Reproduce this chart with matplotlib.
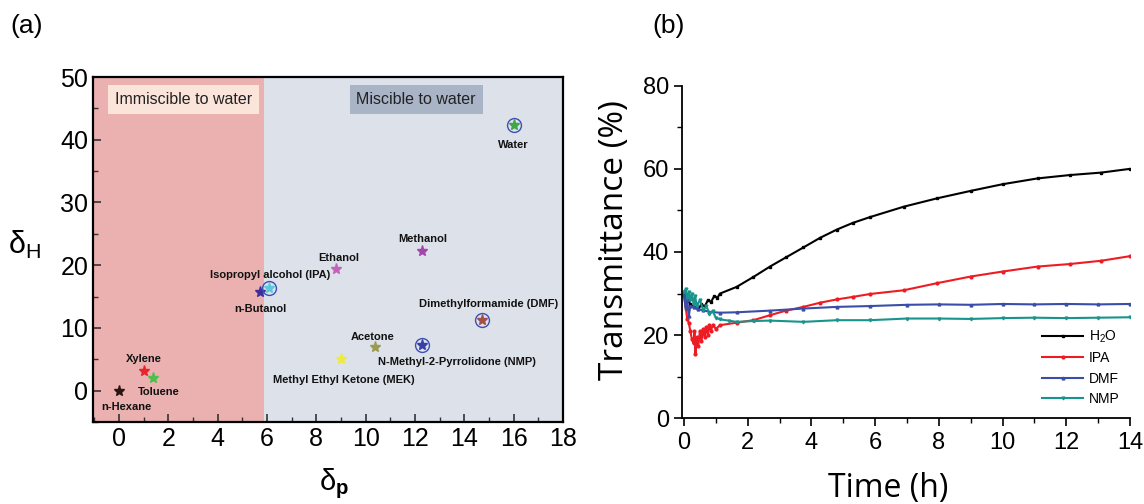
import matplotlib
matplotlib.use('Agg')
import matplotlib.pyplot as plt
from matplotlib.ticker import MultipleLocator

plt.rcParams['font.family'] = ['Liberation Sans', 'DejaVu Sans']
plt.rcParams['mathtext.fontset'] = 'custom'
plt.rcParams['mathtext.rm'] = 'Liberation Sans'
plt.rcParams['mathtext.it'] = 'Liberation Sans:italic'
plt.rcParams['mathtext.bf'] = 'Liberation Sans:bold'

# Hansen parameters of the solvents: polar (δp) and hydrogen bonding (δH)
solvents = ['n-Hexane', 'Xylene', 'Toluene', 'n-Butanol', 'Isopropyl alcohol (IPA)',
            'Ethanol', 'Methanol', 'Water', 'Dimethylformamide (DMF)', 'Acetone',
            'Methyl Ethyl Ketone (MEK)', 'N-Methyl-2-Pyrrolidone (NMP)']
delta_p = [0.0, 1.0, 1.4, 5.7, 6.1, 8.8, 12.3, 16.0, 14.7, 10.4, 9.0, 12.3]
delta_h = [0.0, 3.1, 2.0, 15.8, 16.4, 19.4, 22.3, 42.3, 11.3, 7.0, 5.1, 7.2]
star_colors = ['#2a1414', '#e8232a', '#4cbf4c', '#3f2e9a', '#5cc9da', '#c462bc',
               '#a545ac', '#3da845', '#a4504a', '#9c9a52', '#ecec3c', '#3a3fa8']
circled = ['Isopropyl alcohol (IPA)', 'Water', 'Dimethylformamide (DMF)',
           'N-Methyl-2-Pyrrolidone (NMP)']
# label centre offsets from the marker (δp, δH)
label_offsets = {
    'n-Hexane': (0.3, -2.65), 'Xylene': (0.0, 2.0), 'Toluene': (0.2, -2.2),
    'n-Butanol': (0.05, -2.8), 'Isopropyl alcohol (IPA)': (0.03, 2.0),
    'Ethanol': (0.1, 1.7), 'Methanol': (0.0, 1.9), 'Water': (0.0, -3.1),
    'Dimethylformamide (DMF)': (0.3, 2.5), 'Acetone': (-0.1, 1.6),
    'Methyl Ethyl Ketone (MEK)': (0.1, -3.35), 'N-Methyl-2-Pyrrolidone (NMP)': (1.4, -2.65),
}
miscible_limit = 5.9

# transmittance vs. time
t_h2o = [0, 0.1, 0.2, 0.3, 0.45, 0.55, 0.65, 0.75, 0.85, 0.95, 1.05, 1.13, 1.65, 2.18, 2.7,
         3.2, 3.75, 4.27, 4.8, 5.3, 5.84, 6.9, 7.94, 9.0, 10.0, 11.1, 12.1, 13.1, 14.0]
v_h2o = [30, 28.5, 27.5, 26.8, 26.3, 27.4, 26.9, 28.4, 28.0, 29.4, 29.0, 30.0, 31.6, 34.0, 36.5,
         38.7, 41.1, 43.4, 45.4, 47.0, 48.4, 50.9, 52.9, 54.7, 56.3, 57.7, 58.5, 59.1, 60.0]
t_ipa = [0, 0.05, 0.1, 0.15, 0.2, 0.25, 0.3, 0.33, 0.36, 0.4, 0.45, 0.5, 0.55, 0.6, 0.65,
         0.7, 0.75, 0.8, 0.85, 0.9, 1.0, 1.13, 1.65, 2.18, 2.7, 3.2, 3.75, 4.27, 4.8, 5.3,
         5.84, 6.9, 7.94, 9.0, 10.0, 11.1, 12.1, 13.1, 14.0]
v_ipa = [29.5, 27, 24, 23, 21, 19, 18, 21, 15.5, 19.5, 17.5, 21, 18.5, 21.5, 19.5,
         22, 20, 22.5, 21, 22.5, 21.5, 22.4, 23.0, 23.6, 24.8, 25.9, 26.8, 27.8, 28.6, 29.2,
         29.9, 30.8, 32.5, 34.1, 35.3, 36.5, 37.1, 37.9, 39.0]
t_dmf = [0, 0.05, 0.1, 0.15, 0.2, 0.3, 0.45, 0.6, 0.8, 1.13, 1.65, 2.7, 3.75, 4.8, 5.84,
         7, 8, 9, 10, 11, 12, 13, 14]
v_dmf = [29.9, 26.5, 28.5, 24.5, 27.0, 26.8, 26.2, 26.0, 25.6, 25.4, 25.5, 25.9, 26.4, 26.8, 27.0,
         27.3, 27.4, 27.3, 27.5, 27.4, 27.5, 27.4, 27.5]
t_nmp = [0, 0.05, 0.1, 0.15, 0.2, 0.25, 0.3, 0.35, 0.4, 0.5, 0.6, 0.7, 0.8, 0.9, 1.0,
         1.13, 1.4, 1.65, 2.2, 2.7, 3.75, 4.8, 5.84, 7, 8, 9, 10, 11, 12, 13, 14]
v_nmp = [30.5, 31, 29, 30.5, 28.5, 30, 27.5, 29.5, 27, 28.5, 26, 27, 25.2, 25.8, 24.2,
         23.8, 23.5, 23.2, 23.4, 23.5, 23.2, 23.6, 23.6, 24.0, 24.0, 23.9, 24.1, 24.2, 24.1, 24.2, 24.3]
series = [
    ('H$_2$O', t_h2o, v_h2o, '#000000', 's'),
    ('IPA', t_ipa, v_ipa, '#ed1c24', 'o'),
    ('DMF', t_dmf, v_dmf, '#3a4da8', '^'),
    ('NMP', t_nmp, v_nmp, '#17948c', 'v'),
]

fig = plt.figure(figsize=(11.44, 5.04), dpi=100)

# ---- (a) Hansen map ----
ax1 = fig.add_axes([0.0813, 0.1627, 0.4108, 0.6845])
ax1.set_xlim(-1.05, 18)
ax1.set_ylim(-5, 50)
ax1.axvspan(-1.05, miscible_limit, color='#ebb0b0', lw=0, zorder=0)
ax1.axvspan(miscible_limit, 18, color='#dce1ea', lw=0, zorder=0)

for name, xp, yh, col in zip(solvents, delta_p, delta_h, star_colors):
    ax1.plot(xp, yh, marker='*', ms=8, color=col, mec=col, ls='none', zorder=3)
    if name in circled:
        ax1.plot(xp, yh, marker='o', ms=10, mfc='none', mec='#3f4fb4', mew=1.0,
                 ls='none', zorder=4)
    dx, dy = label_offsets[name]
    ax1.text(xp + dx, yh + dy, name, ha='center', va='center', fontsize=8,
             fontweight='bold', color='#111111', zorder=5)

ax1.text(2.62, 46.4, 'Immiscible to water', ha='center', va='center', fontsize=11.5,
         color='#222222', bbox=dict(boxstyle='square,pad=0.42', fc='#fbe4da', ec='none'))
ax1.text(12.05, 46.4, 'Miscible to water', ha='center', va='center', fontsize=11.5,
         color='#222222', bbox=dict(boxstyle='square,pad=0.42', fc='#a9b4c7', ec='none'))

ax1.xaxis.set_major_locator(MultipleLocator(2))
ax1.xaxis.set_minor_locator(MultipleLocator(1))
ax1.yaxis.set_major_locator(MultipleLocator(10))
ax1.yaxis.set_minor_locator(MultipleLocator(5))
ax1.tick_params(which='both', direction='in', labelsize=18, color='#333333')
ax1.tick_params(which='major', length=6, width=1.2)
ax1.tick_params(which='minor', length=3.5, width=1.0)
for s in ax1.spines.values():
    s.set_linewidth(1.6)
ax1.set_xlabel('$\\mathregular{δ}_\\mathbf{p}$', fontsize=21)
ax1.xaxis.set_label_coords(0.513, -0.128)
ax1.set_ylabel('$\\mathregular{δ_H}$', fontsize=22, rotation=0, ha='center', va='center')
ax1.yaxis.set_label_coords(-0.145, 0.513)

# ---- (b) transmittance ----
ax2 = fig.add_axes([0.5962, 0.170, 0.3916, 0.660])
for label, t, v, col, mk in series:
    ax2.plot(t, v, color=col, lw=1.5, marker=mk, ms=2, label=label)
ax2.set_xlim(-0.06, 14)
ax2.set_ylim(0, 80)
ax2.spines['top'].set_visible(False)
ax2.spines['right'].set_visible(False)
for s in ('left', 'bottom'):
    ax2.spines[s].set_linewidth(1.3)
ax2.xaxis.set_major_locator(MultipleLocator(2))
ax2.xaxis.set_minor_locator(MultipleLocator(1))
ax2.yaxis.set_major_locator(MultipleLocator(20))
ax2.yaxis.set_minor_locator(MultipleLocator(10))
ax2.tick_params(which='both', direction='out', labelsize=17)
ax2.tick_params(which='major', length=6, width=1.2)
ax2.tick_params(which='minor', length=3.5, width=1.0)
ax2.set_xlabel('Time (h)', fontsize=23, family=['Open Sans', 'DejaVu Sans'])
ax2.set_ylabel('Transmittance (%)', fontsize=24, family=['Open Sans', 'DejaVu Sans'])
ax2.xaxis.set_label_coords(0.46, -0.162)
ax2.yaxis.set_label_coords(-0.113, 0.535)
ax2.legend(loc='lower right', bbox_to_anchor=(1.005, 0.0), frameon=False, fontsize=10,
           handlelength=3.0, labelspacing=0.45, handletextpad=0.4)

fig.text(0.009, 0.972, '(a)', fontsize=19, va='top')
fig.text(0.570, 0.972, '(b)', fontsize=19, va='top')

fig.savefig('out.png', dpi=100)
